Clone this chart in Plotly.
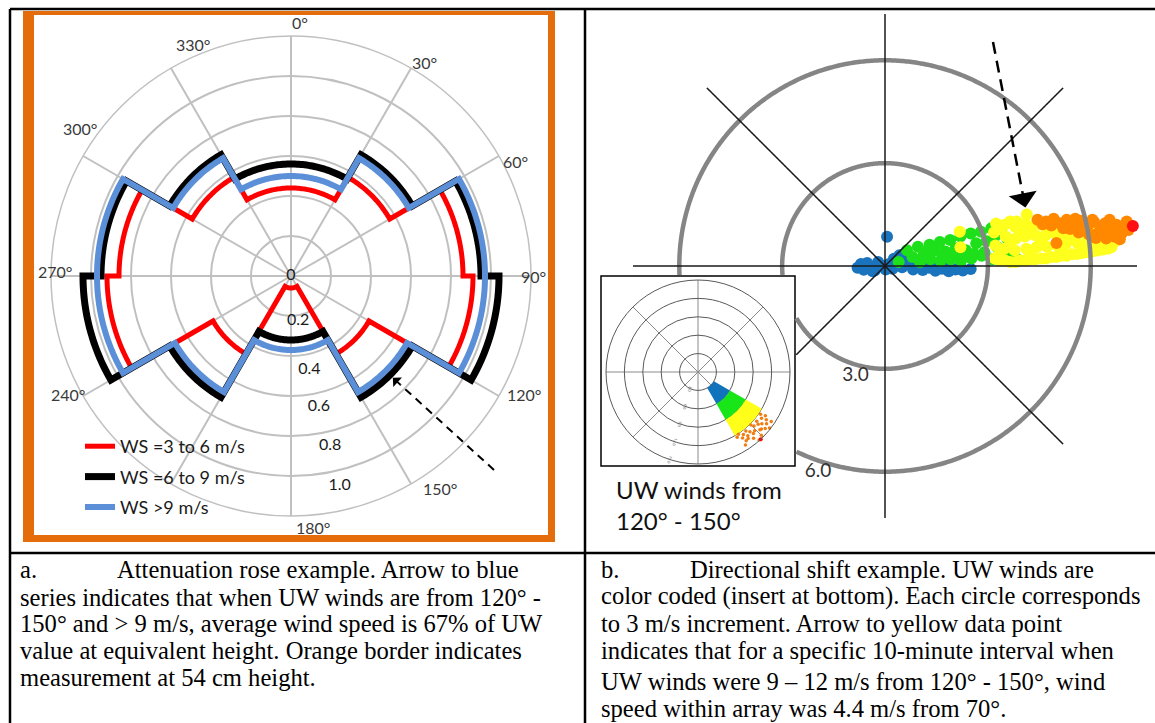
import numpy as np
import plotly.graph_objects as go

W, H = 1155, 723

# ---------------- panel a: attenuation rose (in-array / upwind speed ratio per 30° sector)
SECTOR_START = [0, 30, 60, 90, 120, 150, 180, 210, 240, 270, 300, 330]
SECTOR_WIDTH = 30
RATIO_WS_3_6 = [0.44, 0.57, 0.86, 0.91, 0.45, 0.06, 0.06, 0.45, 0.92, 0.86, 0.57, 0.44]
RATIO_WS_6_9 = [0.56, 0.70, 0.95, 1.04, 0.70, 0.32, 0.32, 0.70, 1.04, 0.95, 0.70, 0.56]
RATIO_WS_GT_9 = [0.50, 0.68, 0.97, 0.97, 0.67, 0.37, 0.37, 0.67, 0.97, 0.97, 0.68, 0.50]
SERIES_NAMES = ["WS =3 to 6 m/s", "WS =6 to 9 m/s", "WS >9 m/s"]
RADIAL_LABELS = [0, 0.2, 0.4, 0.6, 0.8, 1.0]
ANGLE_TICKS = list(range(0, 360, 30))
ANGLE_LABELS = ["0°", "30°", "60°", "90°", "120°", "150°", "180°", "", "240°", "270°",
                "300°", "330°"]

# ---------------- panel b: in-array wind vectors (east, north components, m/s) by UW speed class
BLUE_EAST = [-0.80, -0.62, -0.47, -0.30, -0.14, 0.02, -0.70, -0.52, -0.36, -0.20, 0.12, 0.26,
             0.42, 0.56, 0.72, 0.22, 0.36, 0.50, 0.66, 0.82, 0.94, 1.10, 1.28, 1.47, 1.66,
             1.86, 2.06, 2.27, 2.50, 1.02, 1.38, 1.78, 2.20, 0.06]
BLUE_NORTH = [-0.05, -0.11, 0.01, -0.13, 0.03, -0.10, 0.06, 0.09, -0.15, 0.12, 0.06, 0.21,
              0.31, 0.36, 0.26, -0.08, 0.13, -0.04, 0.11, -0.10, 0.04, -0.12, -0.05, -0.14,
              -0.08, -0.15, -0.10, -0.13, -0.09, 0.00, 0.01, -0.02, -0.03, 0.85]
GREEN_EAST = [0.40, 0.64, 0.80, 0.96, 1.02, 1.15, 1.30, 1.32, 1.46, 1.60, 1.62, 1.76, 1.90,
              1.92, 2.06, 2.20, 2.22, 2.36, 2.50, 2.52, 2.66, 2.80, 2.82, 2.96, 3.10, 3.12,
              3.26, 3.40, 3.42, 3.56, 3.70, 3.86, 1.10, 1.70, 2.30, 2.90, 3.50, 2.00, 2.60, 3.20]
GREEN_NORTH = [0.12, 0.46, 0.26, 0.56, 0.12, 0.40, 0.62, 0.20, 0.45, 0.70, 0.15, 0.42, 0.76,
               0.20, 0.52, 0.86, 0.16, 0.46, 0.95, 0.22, 0.66, 1.00, 0.30, 0.72, 1.10, 0.20,
               0.56, 1.12, 0.26, 0.80, 0.35, 0.20, 0.26, 0.28, 0.30, 0.40, 0.45, 0.30, 0.36, 0.86]
YELLOW_EAST = [2.20, 2.18, 3.20, 3.22, 3.18, 3.24, 3.50, 3.48, 3.52, 3.50, 3.80, 3.78, 3.82,
               3.80, 3.84, 4.10, 4.12, 4.08, 4.10, 4.40, 4.42, 4.38, 4.40, 4.70, 4.72, 4.68,
               4.70, 5.00, 5.02, 4.98, 5.30, 5.28, 5.32, 5.60, 5.62, 5.58, 5.90, 5.88, 5.92,
               6.20, 6.22, 6.18, 6.50, 6.48, 6.52, 6.72, 3.35, 3.65, 3.95, 4.25, 4.55, 4.85,
               5.15, 5.45, 5.75, 6.05, 6.35, 3.35, 3.65, 3.95, 4.25, 4.55, 4.85, 5.15, 5.45,
               5.75, 6.05, 6.35, 3.35, 3.65, 3.95, 4.25, 4.55, 4.85, 5.15, 5.45, 5.75, 6.05,
               6.60]
YELLOW_NORTH = [0.55, 1.00, 0.22, 0.60, 0.98, 1.24, 0.16, 0.50, 0.86, 1.20, 0.12, 0.46, 0.80,
                1.14, 1.30, 0.16, 0.50, 0.86, 1.22, 0.20, 0.55, 0.90, 1.25, 0.22, 0.56, 0.90,
                1.18, 0.26, 0.60, 0.94, 0.30, 0.64, 0.95, 0.35, 0.66, 0.95, 0.40, 0.70, 0.96,
                0.45, 0.74, 1.00, 0.50, 0.80, 1.02, 0.72, 0.40, 0.70, 1.00, 0.35, 0.72, 1.05,
                0.42, 0.80, 0.55, 0.60, 0.65, 0.15, 0.12, 0.16, 0.20, 0.22, 0.26, 0.30, 0.34,
                0.38, 0.42, 0.48, 1.08, 1.30, 1.18, 1.05, 1.20, 1.00, 0.95, 1.02, 1.00, 0.90,
                0.55]
ORANGE_EAST = [4.45, 4.70, 4.92, 5.10, 5.30, 5.50, 5.70, 5.90, 6.10, 6.30, 6.42, 6.60, 6.75,
               6.90, 7.00, 5.20, 5.80, 6.20, 6.70, 7.05, 5.00, 4.60, 4.85, 5.40, 5.65, 5.95,
               6.15, 6.45, 6.85, 7.10, 6.55, 6.05, 5.55]
ORANGE_NORTH = [1.35, 1.30, 1.38, 1.25, 1.35, 1.20, 1.32, 1.15, 1.28, 1.05, 1.25, 1.00, 1.20,
                0.95, 1.15, 1.10, 1.05, 0.95, 0.85, 1.30, 0.67, 1.22, 1.18, 1.08, 0.98, 0.92,
                0.82, 0.80, 0.78, 1.05, 1.35, 1.35, 1.38]
RED_EAST = [7.23]
RED_NORTH = [1.17]
HIGHLIGHT_SPEED = 4.4   # m/s
HIGHLIGHT_DIR = 70      # degrees
RING_SPEEDS = [3, 6]
RING_LABELS = ["3.0", "6.0"]
SPOKE_DIRS = [0, 45, 90, 135, 180, 225, 270, 315]

# ---------------- inset: UW wind classes for 120°-150°
INSET_SECTOR = (120, 150)
INSET_BAND_START = [3, 6, 9]
INSET_BAND_END = [6, 9, 12]
INSET_BAND_COLORS = ["#1273bd", "#19e619", "#ffff1a"]
INSET_ORANGE_R = [12.3, 12.8, 13.1, 13.6, 14.0, 14.4, 14.8, 12.5, 13.0, 13.4, 13.9, 14.3, 12.2,
                  12.7, 13.3, 13.8, 14.6, 12.9, 13.5, 12.4, 13.2, 14.1, 12.6, 13.7, 14.9, 12.1,
                  13.0, 13.6, 14.2, 12.4]
INSET_ORANGE_T = [124, 126, 123, 125, 127, 124, 128, 130, 131, 129, 132, 130, 135, 134, 136,
                  133, 135, 139, 138, 141, 142, 140, 144, 145, 138, 147, 146, 143, 147, 149]
INSET_RED_R = [15.0]
INSET_RED_T = [137]
INSET_RINGS = [3, 6, 9, 12, 15]

# ---------------- layout geometry (pixels)
C1, R1, R1_MAX = (291, 276), 240, 1.2
C2, R2, R2_MAX = (885, 266), 252, 7.35
C3, R3, R3_MAX = (698, 372), 92, 15
INSET_BOX = (601, 276, 795, 466)
K1 = R1 / R1_MAX
K2 = R2 / R2_MAX

# label placement around the rose (radius in axis units, bearing in degrees)
ANGLE_LABEL_R = [1.27, 1.26, 1.26, 1.21, 1.31, 1.30, 1.26, 1.26, 1.26, 1.18, 1.29, 1.26]
ANGLE_LABEL_T = [2, 32, 63, 90, 117, 145, 175, 210, 242, 271, 305, 337]
RADIAL_LABEL_DR = [0, 0.03, 0.08, 0.07, 0.07, 0.08]
RADIAL_LABEL_T = [0, 171, 169, 168, 167, 167]


def fx(x):
    return x / W


def fy(y):
    return 1 - y / H


def domain(c, r):
    return dict(x=[fx(c[0] - r), fx(c[0] + r)], y=[fy(c[1] + r), fy(c[1] - r)])


def rose_path(values):
    th, rr = [], []
    for start, v in zip(SECTOR_START, values):
        t = np.arange(start, start + SECTOR_WIDTH + 0.001, 1.0)
        th.extend(t.tolist())
        rr.extend([v] * len(t))
    return rr, th


def to_polar(east, north):
    e = np.asarray(east, float)
    n = np.asarray(north, float)
    return np.hypot(e, n), np.degrees(np.arctan2(e, n)) % 360


def polar1_px(r, t):
    a = np.radians(t)
    return C1[0] + r * K1 * np.sin(a), C1[1] - r * K1 * np.cos(a)


def polar2_px(r, t):
    a = np.radians(t)
    return C2[0] + r * K2 * np.sin(a), C2[1] - r * K2 * np.cos(a)


def outside_inset(r, t):
    x, y = polar2_px(r, t)
    x0, y0, x1, y1 = INSET_BOX
    return not (x0 - 1 <= x <= x1 + 1 and y0 - 1 <= y <= y1 + 1)


fig = go.Figure()

# ---- panel a series
colors_a = ["#ff0000", "#000000", "#5b8fd8"]
widths_a = [5, 7, 6]
for name, vals, col, wd in zip(SERIES_NAMES, [RATIO_WS_3_6, RATIO_WS_6_9, RATIO_WS_GT_9],
                               colors_a, widths_a):
    rr, th = rose_path(vals)
    fig.add_trace(go.Scatterpolar(r=rr, theta=th, mode="lines", name=name,
                                  legendgroup=name,
                                  line=dict(color=col, width=wd), subplot="polar",
                                  hoverinfo="skip"))

fig.add_trace(go.Scatterpolar(
    r=[v + d for v, d in zip(RADIAL_LABELS, RADIAL_LABEL_DR)], theta=RADIAL_LABEL_T,
    mode="text", text=["0" if v == 0 else f"{v:.1f}" for v in RADIAL_LABELS],
    textfont=dict(family="Lato", size=16, color="#1a1a1a"),
    subplot="polar", showlegend=False, hoverinfo="skip"))

# ---- panel b scatter cloud
classes = [(BLUE_EAST, BLUE_NORTH, "#1a73bd"), (GREEN_EAST, GREEN_NORTH, "#1ee01a"),
           (YELLOW_EAST, YELLOW_NORTH, "#ffff1e"), (ORANGE_EAST, ORANGE_NORTH, "#ff8800"),
           (RED_EAST, RED_NORTH, "#ff1010")]
for e, n, col in classes:
    r, t = to_polar(e, n)
    r, t = r.tolist(), t.tolist()
    if col == "#ffff1e":
        r.append(HIGHLIGHT_SPEED)
        t.append(HIGHLIGHT_DIR)
    fig.add_trace(go.Scatterpolar(r=r, theta=t, mode="markers",
                                  marker=dict(color=col, size=12, line=dict(width=0)),
                                  subplot="polar2", showlegend=False, cliponaxis=False,
                                  hoverinfo="skip"))

# rings (hidden where the inset box sits)
ring_r, ring_t = [], []
for s in RING_SPEEDS:
    for t in np.arange(0, 360.5, 0.5):
        ring_r.append(s if outside_inset(s, t) else None)
        ring_t.append(t)
    ring_r.append(None)
    ring_t.append(0)
fig.add_trace(go.Scatterpolar(r=ring_r, theta=ring_t, mode="lines",
                              line=dict(color="#858585", width=4.5),
                              subplot="polar2", showlegend=False, hoverinfo="skip"))

spoke_r, spoke_t = [], []
for d in SPOKE_DIRS:
    for r in np.linspace(0, R2_MAX, 300):
        spoke_r.append(r if outside_inset(r, d) else None)
        spoke_t.append(d)
    spoke_r.append(None)
    spoke_t.append(d)
fig.add_trace(go.Scatterpolar(r=spoke_r, theta=spoke_t, mode="lines",
                              line=dict(color="#1a1a1a", width=1.5),
                              subplot="polar2", showlegend=False, hoverinfo="skip"))

fig.add_trace(go.Scatterpolar(r=[s + 0.32 for s in RING_SPEEDS], theta=[195, 198],
                              mode="text", text=RING_LABELS,
                              textfont=dict(family="Lato", size=19, color="#333333"),
                              subplot="polar2", showlegend=False, hoverinfo="skip"))

# ---- inset
mid = (INSET_SECTOR[0] + INSET_SECTOR[1]) / 2
span = INSET_SECTOR[1] - INSET_SECTOR[0]
fig.add_trace(go.Barpolar(r=[e - s for s, e in zip(INSET_BAND_START, INSET_BAND_END)],
                          base=INSET_BAND_START, theta=[mid] * 3, width=[span] * 3,
                          marker=dict(color=INSET_BAND_COLORS, line=dict(width=0)),
                          subplot="polar3", showlegend=False, hoverinfo="skip"))
fig.add_trace(go.Scatterpolar(r=INSET_ORANGE_R, theta=INSET_ORANGE_T, mode="markers",
                              marker=dict(color="#f07d10", size=3.5),
                              subplot="polar3", showlegend=False, hoverinfo="skip"))
fig.add_trace(go.Scatterpolar(r=INSET_RED_R, theta=INSET_RED_T, mode="markers",
                              marker=dict(color="#ff0000", size=4), cliponaxis=False,
                              subplot="polar3", showlegend=False, hoverinfo="skip"))

grid_a = "#c0c0c0"
fig.update_layout(
    width=W, height=H, margin=dict(l=0, r=0, t=0, b=0),
    paper_bgcolor="white", plot_bgcolor="white", template="none",
    polar=dict(
        domain=domain(C1, R1), bgcolor="white",
        radialaxis=dict(range=[0, R1_MAX], tickvals=[0.2, 0.4, 0.6, 0.8, 1.0],
                        showticklabels=False, ticks="", showline=False,
                        gridcolor=grid_a, gridwidth=1.5),
        angularaxis=dict(direction="clockwise", rotation=90, tickvals=ANGLE_TICKS,
                         showticklabels=False, ticks="",
                         gridcolor=grid_a, gridwidth=1.5, showline=True,
                         linecolor=grid_a, linewidth=1.5),
    ),
    polar2=dict(
        domain=domain(C2, R2), bgcolor="rgba(0,0,0,0)",
        radialaxis=dict(range=[0, R2_MAX], visible=False),
        angularaxis=dict(direction="clockwise", rotation=90, visible=False),
    ),
    polar3=dict(
        domain=domain(C3, R3), bgcolor="white",
        radialaxis=dict(range=[0, R3_MAX], tickvals=INSET_RINGS,
                        ticktext=[f"{v:.1f}" for v in INSET_RINGS], angle=254,
                        tickfont=dict(size=4, color="#666666"), ticks="",
                        showline=False, gridcolor="#5a5a5a", gridwidth=1,
                        layer="above traces"),
        angularaxis=dict(direction="clockwise", rotation=90, dtick=45,
                         showticklabels=False, ticks="", gridcolor="#8a8a8a",
                         gridwidth=1, showline=True, linecolor="#5a5a5a", linewidth=1,
                         layer="above traces"),
    ),
    legend=dict(x=fx(80), y=fy(428), xanchor="left", yanchor="top",
                font=dict(family="Lato", size=18, color="#1a1a1a"),
                bgcolor="rgba(0,0,0,0)", itemwidth=30, traceorder="grouped",
                tracegroupgap=4),
    showlegend=True,
)

shapes = []
# orange border of panel a
orange = "#e46c0a"
for x0, y0, x1, y1 in [(23, 11, 555, 15), (23, 11, 34, 542), (548, 11, 555, 542),
                       (23, 535, 555, 542)]:
    shapes.append(dict(type="rect", xref="paper", yref="paper", x0=fx(x0), x1=fx(x1),
                       y0=fy(y1), y1=fy(y0), fillcolor=orange, line=dict(width=0),
                       layer="below"))
# table rules
for x0, y0, x1, y1 in [(10, 9, 1155, 9), (10, 553, 1155, 553), (10, 9, 10, 723),
                       (585, 9, 585, 723)]:
    shapes.append(dict(type="line", xref="paper", yref="paper", x0=fx(x0), x1=fx(x1),
                       y0=fy(y0), y1=fy(y1), line=dict(color="black", width=2.5),
                       layer="below"))
# inset frame
x0, y0, x1, y1 = INSET_BOX
shapes.append(dict(type="rect", xref="paper", yref="paper", x0=fx(x0), x1=fx(x1),
                   y0=fy(y1), y1=fy(y0), fillcolor="white",
                   line=dict(color="black", width=1.5), layer="below"))

annotations = []

# compass labels around the rose
for lab, rl, tl in zip(ANGLE_LABELS, ANGLE_LABEL_R, ANGLE_LABEL_T):
    if not lab:
        continue
    lx, ly = polar1_px(rl, tl)
    annotations.append(dict(x=fx(lx), y=fy(ly), xref="paper", yref="paper", text=lab,
                            showarrow=False, xanchor="center", yanchor="middle",
                            font=dict(family="Lato", size=16, color="#3a3a3a")))

# arrow a: points at the >9 m/s value in the 120°-150° sector
v_blue = RATIO_WS_GT_9[SECTOR_START.index(120)]
tip_a = polar1_px(v_blue + 0.05, 135)
tail_a = (494, 470)
ua = np.array(tail_a) - np.array(tip_a)
ua = ua / np.hypot(*ua)
head_a = np.array(tip_a) + ua * 10
shapes.append(dict(type="line", xref="paper", yref="paper", x0=fx(tail_a[0]), y0=fy(tail_a[1]),
                   x1=fx(head_a[0]), y1=fy(head_a[1]),
                   line=dict(color="black", width=2, dash="8px,6px")))
annotations.append(dict(x=fx(tip_a[0]), y=fy(tip_a[1]), xref="paper", yref="paper",
                        ax=ua[0] * 12, ay=ua[1] * 12, showarrow=True, arrowhead=1,
                        arrowsize=1.2, arrowwidth=1.8, arrowcolor="black", text=""))

# arrow b: points at the highlighted 10-minute value
px_h, py_h = polar2_px(HIGHLIGHT_SPEED, HIGHLIGHT_DIR)
tail_b = (993, 42)
ub = np.array(tail_b) - np.array([px_h, py_h])
ub = ub / np.hypot(*ub)
tip_b = np.array([px_h, py_h]) + ub * 7
head_b = tip_b + ub * 16
shapes.append(dict(type="line", xref="paper", yref="paper", x0=fx(tail_b[0]), y0=fy(tail_b[1]),
                   x1=fx(head_b[0]), y1=fy(head_b[1]),
                   line=dict(color="black", width=2.5, dash="12px,7px")))
annotations.append(dict(x=fx(tip_b[0]), y=fy(tip_b[1]), xref="paper", yref="paper",
                        ax=ub[0] * 18, ay=ub[1] * 18, showarrow=True, arrowhead=1,
                        arrowsize=1.9, arrowwidth=2.5, arrowcolor="black", text=""))

# inset caption
for txt, y in [("UW winds from", 489), ("120° - 150°", 520)]:
    annotations.append(dict(x=fx(614), y=fy(y), xref="paper", yref="paper", text=txt,
                            showarrow=False, xanchor="left", yanchor="middle",
                            font=dict(family="Lato", size=24, color="#111111")))

# captions
caption_lines = [
    ("a.", 18, 569), ("Attenuation rose example. Arrow to blue", 115, 569),
    ("series indicates that when UW winds are from 120° -", 18, 597),
    ("150° and > 9 m/s, average wind speed is 67% of UW", 18, 623),
    ("value at equivalent height. Orange border indicates", 18, 650),
    ("measurement at 54 cm height.", 18, 677),
    ("b.", 599, 569), ("Directional shift example. UW winds are", 688, 569),
    ("color coded (insert at bottom). Each circle corresponds", 599, 596),
    ("to 3 m/s increment. Arrow to yellow data point", 599, 623),
    ("indicates that for a specific 10-minute interval when", 599, 650),
    ("UW winds were 9 – 12 m/s from 120° - 150°, wind", 599, 681),
    ("speed within array was 4.4 m/s from 70°.", 599, 708),
]
for txt, x, y in caption_lines:
    annotations.append(dict(x=fx(x), y=fy(y), xref="paper", yref="paper", text=txt,
                            showarrow=False, xanchor="left", yanchor="middle",
                            font=dict(family="Liberation Serif", size=24.6, color="black")))

fig.update_layout(shapes=shapes, annotations=annotations)
fig.write_html("out.html")
